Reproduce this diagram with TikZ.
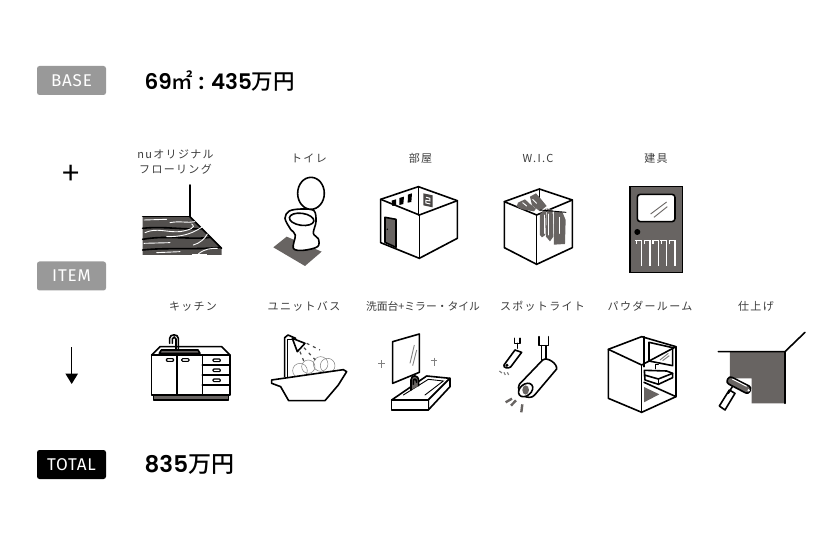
\documentclass[tikz,border=0pt]{standalone}
\usepackage{fontspec}
\usepackage{xcolor}
\usetikzlibrary{arrows.meta}
\setmainfont[LetterSpace=5]{Fira Sans}
\newfontfamily\cjklabel[LetterSpace=12]{Noto Sans CJK JP}
\newfontfamily\cjktight{Noto Sans CJK JP}
\newfontfamily\cjkhead{Noto Sans CJK JP Medium}
\newfontfamily\numhead{Poppins SemiBold}
\definecolor{icongray}{HTML}{686462}
\definecolor{badgegray}{HTML}{999999}
\definecolor{labeltext}{HTML}{3c3c3c}
\tikzset{
  badge/.style={minimum width=69pt,minimum height=29pt,inner sep=0pt,rounded corners=2.5pt,text=white,font=\fontsize{17}{18}\selectfont},
  itemlabel/.style={text=labeltext,inner sep=0pt,align=center,font=\fontsize{11}{14.5}\selectfont\cjklabel},
  headline/.style={anchor=west,inner sep=0pt,font=\fontsize{21.5}{24}\selectfont},
  ink/.style={line width=1.6pt,line join=round,line cap=round},
  fine/.style={line width=.9pt,line cap=round},
  zoomed/.style={x=.3333pt,y=-.3333pt},
}
\begin{document}
\begin{tikzpicture}[x=1pt,y=-1pt]
\useasboundingbox (0,0) rectangle (825,540);

% left column
\node[badge,fill=badgegray] (baseBadge) at (71.5,80.5) {BASE};
\node[badge,fill=badgegray] (itemBadge) at (71.5,276) {ITEM};
\node[badge,fill=black] (totalBadge) at (71.5,464.5) {TOTAL};
\node[headline] (baseText) at (144.5,81) {\numhead 69{\cjkhead ㎡} : 435{\cjkhead 万円}};
\node[headline,font=\fontsize{23}{24}\selectfont] (totalText) at (144.5,464.5) {\numhead 835{\cjkhead 万円}};
\node[inner sep=0pt,font=\fontsize{31}{31}\selectfont\cjktight] (plusSign) at (71.5,174.5) {+};
\coordinate (arrowTop) at (71.7,347);
\coordinate (arrowEnd) at (71.7,384);
\draw[line width=1.2pt,-{Triangle[length=10.5pt,width=12.5pt]}] (arrowTop) -- (arrowEnd);

% labels
\node[itemlabel] (floorLabel) at (175.5,162) {nuオリジナル\\フローリング};
\node[itemlabel] (toiletLabel) at (309,158.5) {トイレ};
\node[itemlabel] (roomLabel) at (420.5,158.5) {部屋};
\node[itemlabel] (wicLabel) at (538,158.5) {W.I.C};
\node[itemlabel] (doorLabel) at (656,158.5) {建具};
\node[itemlabel] (kitchenLabel) at (193,306.5) {キッチン};
\node[itemlabel] (bathLabel) at (304,306.5) {ユニットバス};
\node[itemlabel,font=\fontsize{10.8}{14.5}\selectfont\cjktight] (basinLabel) at (423,306.5) {洗面台+ミラー・タイル};
\node[itemlabel] (spotLabel) at (542.5,306.5) {スポットライト};
\node[itemlabel] (powderLabel) at (650,306.5) {パウダールーム};
\node[itemlabel] (finishLabel) at (756,306.5) {仕上げ};

% flooring
\begin{scope}[shift={(130pt,-140pt)},zoomed]
\fill[icongray!80!black] (38,230) -- (180,230) -- (275,325) -- (275,345) -- (38,345) -- cycle;
\draw[ink] (180,135) -- (180,230) -- (275,325);
\draw[ink] (38,230) -- (180,230);
\draw[ink] (38,265) .. controls (100,258) and (160,270) .. (216,266);
\draw[ink] (38,298) .. controls (110,285) and (180,300) .. (242,292);
\draw[ink] (38,330) .. controls (110,322) and (190,330) .. (272,322);
\draw[white,fine] (42,240) -- (110,238);
\draw[white,fine] (120,248) .. controls (150,242) and (175,250) .. (195,245);
\draw[white,fine] (45,278) .. controls (80,262) and (110,278) .. (150,275) .. controls (180,270) and (200,262) .. (185,252);
\draw[white,fine] (110,290) .. controls (150,290) and (180,285) .. (215,262);
\draw[white,fine] (190,315) .. controls (210,310) and (225,295) .. (232,282);
\draw[white,fine] (42,310) -- (120,308);
\draw[white,fine] (205,342) .. controls (225,325) and (245,325) .. (262,325);
\draw[white,line width=1.6pt] (185,343) -- (230,343);
\draw[white,fine] (80,338) -- (150,335);

% toilet
\fill[icongray] (430,322) -- (470,290) -- (575,335) -- (525,378) -- cycle;
\draw[ink,fill=white] plot[smooth cycle,tension=.55] coordinates {(515,207) (478,213) (465,235) (482,268) (496,285) (490,325) (520,331) (563,320) (565,296) (550,280) (558,245) (552,212)};
\draw[ink,fill=white] (543,160) ellipse [x radius=40,y radius=48];
\draw[ink,fill=white] (515,238) ellipse [x radius=37,y radius=18,rotate=-8];
\end{scope}

% room and closet
\begin{scope}[shift={(360pt,-140pt)},zoomed]
\draw[ink] (175,140) -- (62,178) -- (62,308) -- (178,355) -- (292,295) -- (292,182) -- cycle;
\draw[ink] (62,178) -- (178,225) -- (292,182);
\draw[ink] (178,225) -- (178,355);
\draw[ink] (175,140) -- (175,225);
\draw[ink,fill=icongray] (75,232) -- (108,238) -- (108,322) -- (75,307) -- cycle;
\fill (82,268) circle (2.5);
\fill (95,182) -- (108,178) -- (108,196) -- (97,198) -- cycle;
\fill (118,174) -- (132,170) -- (130,192) -- (118,195) -- cycle;
\fill (144,164) -- (156,160) -- (154,186) -- (143,188) -- cycle;
\fill[icongray!70!black] (190,160) -- (218,166) -- (218,202) -- (190,196) -- cycle;
\draw[white,line width=1pt] (198,172) -- (210,175) -- (210,183) -- (198,181) -- (198,189) -- (211,192);

\draw[ink] (538,147) -- (433,185) -- (433,323) -- (530,373) -- (637,323) -- (637,180) -- cycle;
\draw[ink] (433,185) -- (530,225) -- (637,180);
\draw[ink] (530,225) -- (530,373);
\draw[ink] (538,147) -- (538,205);
\fill[icongray] (474,188) -- (495,178) -- (510,192) -- (528,206) -- (522,214) -- (485,208) -- (470,200) -- cycle;
\fill[icongray] (510,170) -- (528,160) -- (542,176) -- (560,198) -- (540,214) -- (516,196) -- cycle;
\fill[icongray] (540,222) -- (558,205) -- (556,285) -- (546,292) -- (540,285) -- cycle;
\fill[icongray] (560,205) -- (578,210) -- (580,290) -- (570,304) -- (558,290) -- cycle;
\fill[icongray] (582,216) -- (607,216) -- (617,240) -- (615,312) -- (582,314) -- cycle;
\draw[fine] (540,210) -- (618,217);
\draw[white,fine] (598,232) -- (598,280);
\draw[white,fine] (552,225) -- (552,280);
\draw[white,fine] (566,222) -- (566,285);
\draw[white,fine] (488,188) -- (500,198);
\draw[white,fine] (518,178) -- (530,190);

% door
\draw[line width=1.4pt,fill=icongray] (810,139) rectangle (968,397);
\draw[ink,fill=white,rounded corners=3pt] (832,163) rectangle (945,245);
\draw[icongray,line width=.9pt] (872,222) -- (920,186);
\draw[icongray,line width=.9pt] (882,232) -- (922,200);
\fill (832,276) circle (9);
\foreach \xpos in {826,851,876,901,926} {
  \draw[white,line width=1.4pt] (\xpos,302) -- (\xpos+19,302) -- (\xpos+19,378);
  \draw[white,line width=1.4pt] (\xpos+3,302) -- (\xpos+3,312);
}
\end{scope}

% kitchen and bath
\begin{scope}[shift={(130pt,-295pt)},zoomed]
\draw[ink,fill=icongray] (70,300) rectangle (295,315);
\draw[ink,fill=white] (90,155) -- (275,155) -- (300,180) -- (65,180) -- cycle;
\draw[ink,fill=white] (65,180) rectangle (300,300);
\draw[ink,fill=icongray] (88,175) -- (94,165) -- (204,165) -- (210,175) -- cycle;
\draw[ink] (119,145) -- (119,130) .. controls (119,116) and (145,116) .. (145,130) -- (145,162);
\draw[ink] (127,145) -- (127,132) .. controls (127,124) and (138,124) .. (138,132) -- (138,162);
\draw[ink] (141,180) -- (141,300);
\draw[ink] (217,180) -- (217,300);
\draw[ink] (217,210) -- (300,210);
\draw[ink] (217,240) -- (300,240);
\draw[ink] (217,270) -- (300,270);
\foreach \xpos/\ypos in {120/195,166/195,260/196,260/226,260/256} {
  \draw[line width=1.1pt,fill=white,rounded corners=1pt] (\xpos-11,\ypos-4) rectangle (\xpos+11,\ypos+4);
}

\draw[line width=.5pt,gray] (510,227) circle (22);
\draw[line width=.5pt,gray] (535,215) circle (20);
\draw[line width=.5pt,gray] (572,207) circle (22);
\draw[line width=.5pt,gray] (593,212) circle (22);
\draw[ink,fill=white] (425,255) -- (640,224) -- (650,230) -- (625,270) -- (585,317) -- (476,317) -- (452,275) -- (425,265) -- cycle;
\draw[ink] (464,245) -- (464,128) -- (474,120) -- (497,130);
\draw[ink] (472,245) -- (472,134) -- (490,134);
\draw[ink,fill=white] (487,130) -- (525,145) -- (502,170) -- cycle;
\draw[black!70,line width=1.2pt,dash pattern=on 3pt off 4pt] (530,145) -- (570,165);
\draw[black!70,line width=1.2pt,dash pattern=on 3pt off 4pt] (522,158) -- (556,195);
\draw[black!70,line width=1.2pt,dash pattern=on 3pt off 4pt] (510,170) -- (524,205);
\end{scope}

% basin and spotlights
\begin{scope}[shift={(360pt,-295pt)},zoomed]
\draw[ink] (98,140) -- (178,117) -- (178,232) -- (98,265) -- cycle;
\draw[gray,line width=.9pt] (163,150) -- (150,205);
\draw[gray,line width=.9pt] (170,165) -- (158,212);
\foreach \xpos/\ypos in {65/208,222/200} {
  \draw[gray,line width=.7pt] (\xpos,\ypos-12) -- (\xpos,\ypos+12);
  \draw[gray,line width=.7pt] (\xpos-10,\ypos-4) -- (\xpos+10,\ypos-4);
}
\draw[ink,fill=white] (95,315) -- (200,243) -- (270,250) -- (205,315) -- cycle;
\draw[ink,fill=white] (270,250) -- (270,275) -- (205,345) -- (205,315) -- cycle;
\draw[ink,fill=white] (95,315) rectangle (205,345);
\draw[fine] (130,300) -- (205,253) -- (250,258) -- (195,300);
\draw[ink,fill=icongray] (153,285) -- (153,255) .. controls (153,238) and (176,238) .. (176,258) -- (176,272);
\draw[ink] (160,268) -- (160,258) .. controls (160,250) and (170,250) .. (170,262);

\draw[ink] (464,130) -- (464,145) -- (480,145) -- (480,130);
\draw[ink] (472,145) -- (472,160);
\draw[ink,fill=white] (432,210) -- (465,165) -- (485,172) -- (452,216) .. controls (445,222) and (428,218) .. (432,210) -- cycle;
\fill (441,211) circle (5);
\foreach \xa/\ya/\xb/\yb in {418/228/426/234,432/232/436/240,442/232/446/240} {
  \draw[gray,line width=1.1pt] (\xa,\ya) -- (\xb,\yb);
}
\draw[ink] (537,125) -- (537,152) -- (565,152) -- (565,125);
\draw[ink] (545,152) -- (545,195);
\draw[ink] (558,152) -- (558,195);
\draw[ink,fill=white] (478,268) -- (548,195) .. controls (562,185) and (592,205) .. (590,222) -- (524,300) .. controls (508,320) and (465,295) .. (478,268) -- cycle;
\draw[ink,fill=white,rotate around={40:(497,285)}] (497,285) ellipse [x radius=24,y radius=17];
\fill[icongray] (497,285) ellipse [x radius=10,y radius=14];
\foreach \xa/\ya/\xb/\yb in {437/322/456/311,453/332/468/316,484/352/487/328} {
  \draw[icongray,line width=2.4pt] (\xa,\ya) -- (\xb,\yb);
}
\end{scope}

% powder room and finish
\begin{scope}[shift={(600pt,-295pt)},zoomed]
\draw[ink] (125,125) -- (25,163) -- (25,310) -- (125,352) -- (228,305) -- (228,155) -- cycle;
\draw[ink] (25,163) -- (125,210) -- (228,155);
\draw[ink] (125,210) -- (125,352);
\draw[ink] (132,125) -- (132,215);
\draw[ink] (147,142) -- (218,158) -- (218,212) -- (147,198) -- cycle;
\draw[gray,line width=1pt] (180,195) -- (205,175);
\draw[gray,line width=1pt] (188,197) -- (208,182);
\draw[ink,fill=white] (133,226) -- (200,228) -- (218,235) -- (218,248) -- (175,268) -- (135,255) -- cycle;
\draw[ink] (133,240) -- (175,252) -- (218,235);
\draw[ink] (175,252) -- (175,268);
\draw[fine] (165,222) -- (165,208) -- (175,208);
\fill[icongray] (132,276) -- (178,298) -- (132,322) -- cycle;
\draw[ink] (132,262) -- (228,305);

\fill[icongray] (390,170) -- (555,170) -- (555,325) -- (455,325) -- (455,250) -- (390,250) -- cycle;
\draw[ink] (355,170) -- (555,170) -- (615,112);
\draw[ink] (555,170) -- (555,325);
\draw[ink,fill=white] (388,285) -- (405,295) -- (375,345) -- (358,333) -- cycle;
\draw[ink] (400,270) -- (385,295);
\draw[ink,fill=icongray,rounded corners=3pt] (388,243) -- (455,277) -- (445,298) -- (378,263) -- cycle;
\draw[white,line width=1pt] (397,252) -- (440,274);
\fill[white] (446,286) circle (4);
\end{scope}
\end{tikzpicture}
\end{document}
